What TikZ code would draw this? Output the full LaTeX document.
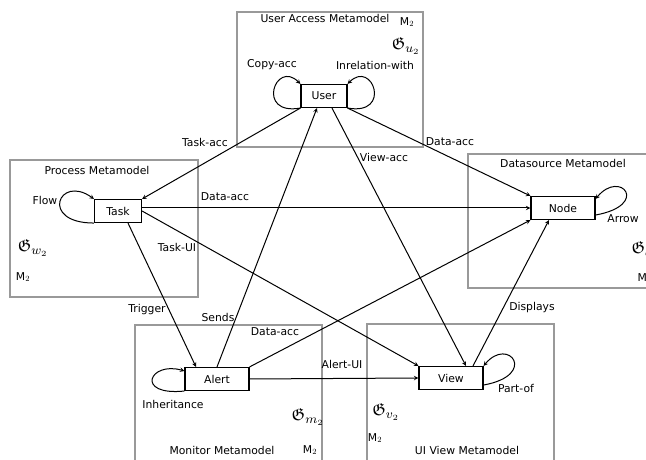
\documentclass[tikz,border=0pt]{standalone}
\usepackage{fontspec}
\setmainfont{DejaVu Sans}
\usepackage{amssymb}

\begin{document}
\begin{tikzpicture}[x=1pt,y=1pt,>=stealth,
		every node/.style={font=\fontsize{10.8}{13}\selectfont},
		metamodel/.style={draw=gray!80,line width=1.3pt},
		entity/.style={draw,line width=1.1pt,inner sep=0pt,minimum height=23pt},
		graphsym/.style={scale=1.6},
		rel/.style={->,line width=1pt}]
	\useasboundingbox (0,0) rectangle (646,460);
	\clip (0,0) rectangle (646,460);
	% metamodel frames
	\draw[metamodel] (237,313) rectangle (423,448);
	\draw[metamodel] (10,163) rectangle (198,300);
	\draw[metamodel] (468,172) rectangle (680,306);
	\draw[metamodel] (135,135) rectangle (322,-20);
	\draw[metamodel] (367,136) rectangle (554,-20);
	\node (useraccess) at (325,442) {User Access Metamodel};
	\node (process) at (97,290) {Process Metamodel};
	\node (datasource) at (563,297) {Datasource Metamodel};
	\node (monitor) at (222,10) {Monitor Metamodel};
	\node (uiview) at (467,10) {UI View Metamodel};
	\node (mu) at (407,438) {M$_2$};
	\node[graphsym] (gu) at (406,414) {$\mathfrak{G}_{u_2}$};
	\node[graphsym] (gw) at (33,212) {$\mathfrak{G}_{w_2}$};
	\node (mw) at (23,183) {M$_2$};
	\node[graphsym,anchor=west] (gd) at (626,210) {$\mathfrak{G}_{d_2}$};
	\node[anchor=west] (md) at (634,182) {M$_2$};
	\node[graphsym] (gm) at (308,43) {$\mathfrak{G}_{m_2}$};
	\node (mm) at (310,10) {M$_2$};
	\node[graphsym] (gv) at (386,48) {$\mathfrak{G}_{v_2}$};
	\node (mv) at (375,22) {M$_2$};
	% entities
	\node[entity,minimum width=46pt] (user) at (324,364) {User};
	\node[entity,minimum width=47pt] (task) at (118,249) {Task};
	\node[entity,minimum width=64pt] (datanode) at (563,252) {Node};
	\node[entity,minimum width=64pt] (alert) at (217,81) {Alert};
	\node[entity,minimum width=64pt] (view) at (451,82) {View};
	% relations
	\draw[rel] (user.south west) -- (task.north east);
	\draw[rel] (alert.north) -- ([xshift=-7pt]user.south);
	\draw[rel] ([xshift=8pt]user.south) -- ([xshift=15pt]view.north);
	\draw[rel] (user.south east) -- (datanode.north west);
	\draw[rel] (task.east |- datanode.west) -- (datanode.west);
	\draw[rel] (task.east) -- (view.north west);
	\draw[rel] ([xshift=10pt]task.south) -- ([xshift=-21pt]alert.north);
	\draw[rel] (alert.north east) -- (datanode.south west);
	\draw[rel] (alert.east) -- (view.west);
	\draw[rel] ([xshift=22pt]view.north) -- ([xshift=-14pt]datanode.south);
	% self relations
	\draw[rel] (user.south west) .. controls +(-45,-8) and +(-25,25) .. (user.north west);
	\draw[rel] (user.south east) .. controls +(45,-8) and +(25,25) .. (user.north east);
	\draw[rel] (task.south west) .. controls +(-55,0) and +(-35,25) .. (task.north west);
	\draw[rel] (alert.south west) .. controls +(-50,-5) and +(-35,10) .. ([yshift=-4pt]alert.north west);
	\draw[rel] ([yshift=5pt]datanode.south east) .. controls +(55,10) and +(25,30) .. ([yshift=-3pt]datanode.north east);
	\draw[rel] ([yshift=5pt]view.south east) .. controls +(55,10) and +(25,30) .. (view.north east);
	% relation labels
	\node (copyacc) at (272,395) {Copy-acc};
	\node (inrel) at (375,395) {Inrelation-with};
	\node (flow) at (45,260) {Flow};
	\node (taskacc) at (205,318) {Task-acc};
	\node (dataaccu) at (450,318) {Data-acc};
	\node (viewacc) at (384,303) {View-acc};
	\node (dataacct) at (225,263) {Data-acc};
	\node (taskui) at (177,213) {Task-UI};
	\node (arrow) at (623,241) {Arrow};
	\node (displays) at (532,152) {Displays};
	\node (trigger) at (147,150) {Trigger};
	\node (sends) at (218,143) {Sends};
	\node (dataacca) at (275,128) {Data-acc};
	\node (alertui) at (342,96) {Alert-UI};
	\node (inherit) at (173,56) {Inheritance};
	\node (partof) at (516,72) {Part-of};
\end{tikzpicture}
\end{document}
